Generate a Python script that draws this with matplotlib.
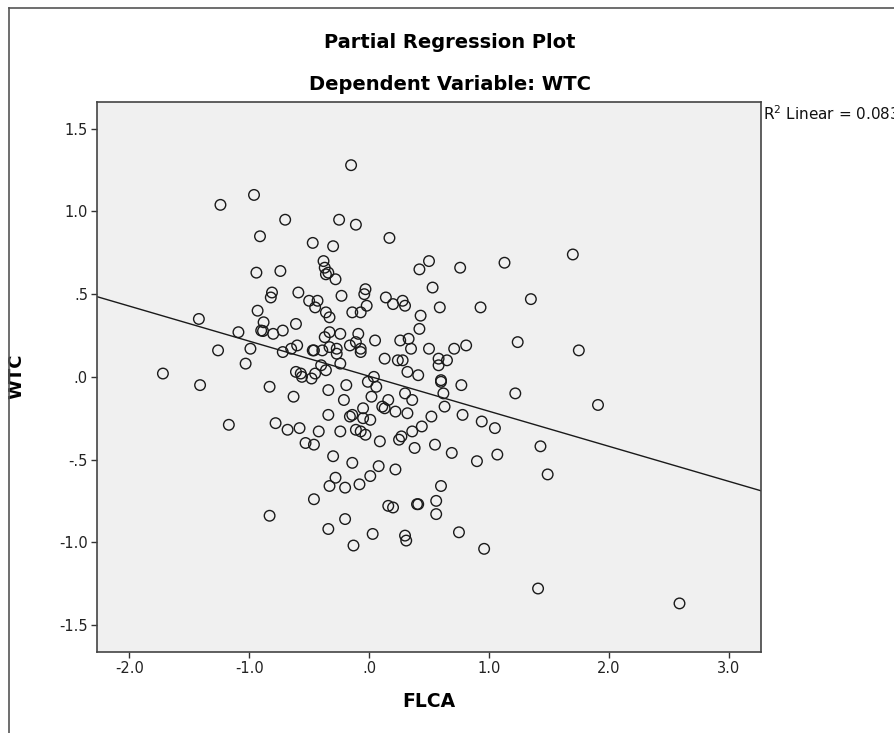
import matplotlib
matplotlib.use("Agg")
import matplotlib.pyplot as plt
from matplotlib.lines import Line2D
import numpy as np

# partial regression residuals
flca = [-0.15, -1.24, -0.96, -0.70, -0.25, -0.11, -0.91, 0.17, -0.47, -0.30,
        -0.38, -0.37, -0.34, -0.36, -0.28, 0.50, 0.42, 0.76, 1.13, 1.70,
        -0.94, -0.74, 0.53, -0.03, -0.81, -0.82, -0.59, -0.23, -0.04, -0.02,
        -0.50, -0.43, -0.45, 0.14, 0.20, 0.28, 0.30, 0.59, 0.93, 1.35,
        -0.14, -0.07, -0.93, -0.36, -0.33, -1.42, 0.43, -0.88, -0.61, -0.90,
        -0.885, -0.80, -0.72, -1.09, -0.33, -0.24, -0.37, -0.09, -0.11, 0.42,
        0.05, 0.26, 0.33, 1.24, 0.35, 0.50, 0.71, 0.81, -0.07, -0.07,
        -0.16, -1.26, -0.99, -0.72, -0.65, -0.60, -0.47, -0.46, -0.39, -0.33,
        -0.27, -0.27, 1.75, -0.24, 0.13, 0.24, 0.28, 0.58, 0.65, 0.58,
        -1.03, -0.40, -0.36, -0.61, -0.57, -0.56, -0.45, -0.48, 0.04, -0.01,
        0.06, 0.32, 0.41, -1.72, 0.60, 0.60, 0.77, -1.41, -0.83, -0.63,
        -0.34, -0.19, -0.21, 0.02, 0.16, 0.30, 0.36, 0.62, 1.22, -0.05,
        0.11, 0.13, 0.22, 0.32, 0.63, 1.91, -0.34, -0.16, -0.14, -0.05,
        0.01, 0.52, 0.78, 0.94, 1.05, -1.17, -0.78, -0.68, -0.58, -0.42,
        -0.24, -0.11, -0.07, -0.03, 0.44, 0.36, 0.27, 0.25, -0.53, -0.46,
        0.09, 0.38, 0.55, 0.69, 0.90, 1.07, 1.43, -0.30, -0.14, 0.08,
        0.22, 1.49, 0.01, -0.08, -0.28, -0.33, -0.20, 0.60, -0.46, 0.16,
        0.20, 0.40, 0.41, 0.56, 0.56, -0.83, -0.20, -0.34, 0.03, 0.30,
        0.31, 0.75, -0.13, 0.96, 1.41, 2.59]
wtc = [1.28, 1.04, 1.10, 0.95, 0.95, 0.92, 0.85, 0.84, 0.81, 0.79,
       0.70, 0.66, 0.63, 0.62, 0.59, 0.70, 0.65, 0.66, 0.69, 0.74,
       0.63, 0.64, 0.54, 0.53, 0.51, 0.48, 0.51, 0.49, 0.50, 0.43,
       0.46, 0.46, 0.42, 0.48, 0.44, 0.46, 0.43, 0.42, 0.42, 0.47,
       0.39, 0.39, 0.40, 0.39, 0.36, 0.35, 0.37, 0.33, 0.32, 0.28,
       0.277, 0.26, 0.28, 0.27, 0.27, 0.26, 0.24, 0.26, 0.21, 0.29,
       0.22, 0.22, 0.23, 0.21, 0.17, 0.17, 0.17, 0.19, 0.17, 0.15,
       0.19, 0.16, 0.17, 0.15, 0.17, 0.19, 0.16, 0.16, 0.16, 0.18,
       0.17, 0.14, 0.16, 0.08, 0.11, 0.10, 0.10, 0.11, 0.10, 0.07,
       0.08, 0.07, 0.04, 0.03, 0.02, 0.00, 0.02, -0.01, 0.00, -0.03,
       -0.06, 0.03, 0.01, 0.02, -0.02, -0.03, -0.05, -0.05, -0.06, -0.12,
       -0.08, -0.05, -0.14, -0.12, -0.14, -0.10, -0.14, -0.10, -0.10, -0.19,
       -0.18, -0.19, -0.21, -0.22, -0.18, -0.17, -0.23, -0.24, -0.23, -0.25,
       -0.26, -0.24, -0.23, -0.27, -0.31, -0.29, -0.28, -0.32, -0.31, -0.33,
       -0.33, -0.32, -0.33, -0.35, -0.30, -0.33, -0.36, -0.38, -0.40, -0.41,
       -0.39, -0.43, -0.41, -0.46, -0.51, -0.47, -0.42, -0.48, -0.52, -0.54,
       -0.56, -0.59, -0.60, -0.65, -0.61, -0.66, -0.67, -0.66, -0.74, -0.78,
       -0.79, -0.77, -0.77, -0.75, -0.83, -0.84, -0.86, -0.92, -0.95, -0.96,
       -0.99, -0.94, -1.02, -1.04, -1.28, -1.37]

x_ticks = [-2.0, -1.0, 0.0, 1.0, 2.0, 3.0]
x_ticklabels = ["-2.0", "-1.0", ".0", "1.0", "2.0", "3.0"]
y_ticks = [-1.5, -1.0, -0.5, 0.0, 0.5, 1.0, 1.5]
y_ticklabels = ["-1.5", "-1.0", "-.5", ".0", ".5", "1.0", "1.5"]
r2_text = "R$^2$ Linear = 0.083"

W, H = 894, 733
fig = plt.figure(figsize=(W / 100, H / 100), dpi=100)
fig.patch.set_facecolor("white")

# outer frame of the spss output (only left and top edges are in view)
fig.add_artist(Line2D([8.5 / W, 8.5 / W], [0, 1 - 7.5 / H], color="#555555", lw=1.2))
fig.add_artist(Line2D([8.5 / W, 1], [1 - 7.5 / H, 1 - 7.5 / H], color="#555555", lw=1.2))

ax = fig.add_axes([97 / W, 1 - 651.7 / H, (761 - 97) / W, (651.7 - 101.5) / H])
ax.set_facecolor("#f0f0f0")
for s in ax.spines.values():
    s.set_color("#444444")
    s.set_linewidth(1.2)

x = np.array(flca)
y = np.array(wtc)
ax.scatter(x, y, s=58, facecolors="none", edgecolors="#1a1a1a", linewidths=1.0, zorder=3)

# fit line
slope, intercept = np.polyfit(x, y, 1)
xlim = (-2.27, 3.27)
ylim = (-1.662, 1.665)
xl = np.array(xlim)
ax.plot(xl, slope * xl + intercept, color="#1a1a1a", lw=1.0, zorder=2)
ax.set_xlim(xlim)
ax.set_ylim(ylim)

ax.set_xticks(x_ticks)
ax.set_xticklabels(x_ticklabels)
ax.set_yticks(y_ticks)
ax.set_yticklabels(y_ticklabels)
ax.tick_params(direction="out", length=4.5, width=1.0, color="#333333",
               labelsize=10.5, labelcolor="#222222", pad=2)

ax.set_xlabel("FLCA", fontsize=13.5, fontweight="bold", labelpad=12)
ax.set_ylabel("WTC", fontsize=13, fontweight="bold", labelpad=24)

fig.text(450 / W, 1 - 42 / H, "Partial Regression Plot", ha="center", va="center",
         fontsize=14, fontweight="bold")
fig.text(450 / W, 1 - 84 / H, "Dependent Variable: WTC", ha="center", va="center",
         fontsize=14, fontweight="bold")
fig.text(763 / W, 1 - 114 / H, r2_text, ha="left", va="center", fontsize=11, color="#111111")

fig.savefig("out.png", dpi=100, facecolor="white")
